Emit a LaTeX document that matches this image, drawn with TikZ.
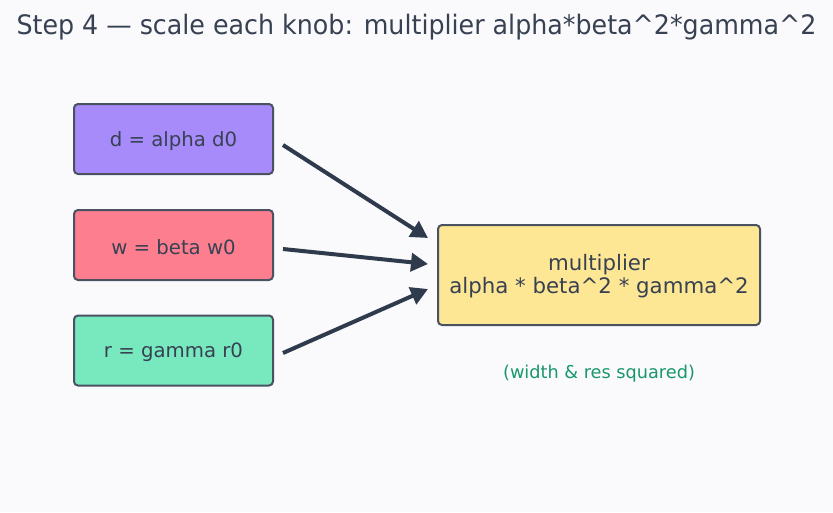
\documentclass[tikz,border=0pt]{standalone}
\usepackage{fontspec}
\setmainfont{DejaVu Sans}
\newfontfamily\titlefont[FakeStretch=0.945]{DejaVu Sans}
\usetikzlibrary{arrows.meta}
\definecolor{bg}{HTML}{FAFAFD}
\definecolor{edge}{HTML}{4A5262}
\definecolor{txt}{HTML}{374151}
\definecolor{arr}{HTML}{2F3A4C}
\definecolor{cpurple}{HTML}{A78BFA}
\definecolor{cred}{HTML}{FD7F8F}
\definecolor{cgreen}{HTML}{78E8BF}
\definecolor{cyellow}{HTML}{FDE694}
\definecolor{note}{HTML}{17976A}
\newcommand\lowr[1]{\raisebox{-2pt}[\height][\depth]{#1}}
\tikzset{
  knob/.style={draw=edge, line width=2pt, rounded corners=4pt, minimum width=199pt, minimum height=70pt, text=txt, font=\fontsize{19.7}{22}\selectfont, inner sep=0pt},
  arrowline/.style={draw=arr, line width=4pt, -{Triangle[length=17pt,width=18pt]}}
}
\begin{document}
\begin{tikzpicture}[x=1pt,y=-1pt]
\fill[bg] (0,0) rectangle (833,512);
\useasboundingbox (0,0) rectangle (833,512);
\node[text=txt, font=\titlefont\fontsize{26.8}{30}\selectfont] (title) at (416.5,27.5) {Step 4 — scale each knob: multiplier alpha*beta\textasciicircum 2*gamma\textasciicircum 2};
\node[knob, fill=cpurple] (d) at (173.5,139) {\lowr{d = alpha d0}};
\node[knob, fill=cred] (w) at (173.5,245) {\lowr{w = beta w0}};
\node[knob, fill=cgreen] (r) at (173.5,350.5) {\lowr{r = gamma r0}};
\node[knob, fill=cyellow, minimum width=322pt, minimum height=100pt, font=\fontsize{21.3}{24}\selectfont] (m) at (599,275) {\lowr{\begin{tabular}{@{}c@{}}multiplier\\[-1pt]alpha * beta\textasciicircum 2 * gamma\textasciicircum 2\end{tabular}}};
\node[text=note, font=\fontsize{17.7}{20}\selectfont] (n) at (599,374) {(width \& res squared)};
\coordinate (d1) at (283,145);
\coordinate (w1) at (283,249);
\coordinate (r1) at (283,353);
\coordinate (m1) at (428,238);
\coordinate (m2) at (428,264);
\coordinate (m3) at (428,289);
\draw[arrowline] (d1) -- (m1);
\draw[arrowline] (w1) -- (m2);
\draw[arrowline] (r1) -- (m3);
\end{tikzpicture}
\end{document}
